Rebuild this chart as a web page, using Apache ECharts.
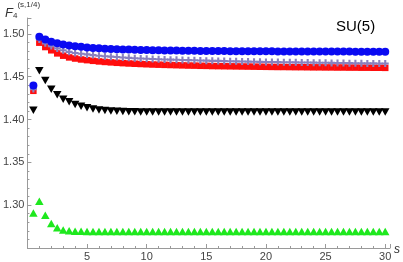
<!DOCTYPE html>
<html><head><meta charset="utf-8">
<script src="https://cdn.jsdelivr.net/npm/echarts@6/dist/echarts.min.js"></script>
<style>html,body{margin:0;padding:0;background:#fff}#c{width:403px;height:262px}</style>
</head><body><div id="c"></div>
<script>
const sValues = [0.5,1,1.5,2,2.5,3,3.5,4,4.5,5,5.5,6,6.5,7,7.5,8,8.5,9,9.5,10,10.5,11,11.5,12,12.5,13,13.5,14,14.5,15,15.5,16,16.5,17,17.5,18,18.5,19,19.5,20,20.5,21,21.5,22,22.5,23,23.5,24,24.5,25,25.5,26,26.5,27,27.5,28,28.5,29,29.5,30];
const blueVals = [1.4397,1.4965,1.4935,1.4908,1.4890,1.4876,1.4865,1.4856,1.4848,1.4841,1.4836,1.4831,1.4827,1.4824,1.4821,1.4818,1.4816,1.4814,1.4812,1.4810,1.4809,1.4808,1.4807,1.4806,1.4805,1.4804,1.4803,1.4802,1.4801,1.4800,1.4800,1.4799,1.4799,1.4798,1.4798,1.4797,1.4797,1.4797,1.4796,1.4796,1.4796,1.4795,1.4795,1.4795,1.4795,1.4794,1.4794,1.4794,1.4794,1.4793,1.4793,1.4793,1.4793,1.4793,1.4792,1.4792,1.4792,1.4792,1.4792,1.4792];
const purpleVals = [1.4355,1.4935,1.4889,1.4857,1.4830,1.4808,1.4790,1.4776,1.4768,1.4760,1.4752,1.4745,1.4739,1.4734,1.4729,1.4724,1.4720,1.4716,1.4713,1.4710,1.4707,1.4704,1.4701,1.4699,1.4697,1.4695,1.4693,1.4691,1.4689,1.4687,1.4685,1.4684,1.4682,1.4680,1.4679,1.4677,1.4676,1.4675,1.4673,1.4672,1.4671,1.4670,1.4669,1.4668,1.4667,1.4666,1.4665,1.4664,1.4663,1.4662,1.4661,1.4660,1.4659,1.4658,1.4657,1.4656,1.4655,1.4655,1.4654,1.4653];
const redVals = [1.4335,1.4897,1.4846,1.4808,1.4772,1.4745,1.4725,1.4712,1.4701,1.4693,1.4685,1.4678,1.4672,1.4667,1.4662,1.4658,1.4654,1.4651,1.4648,1.4645,1.4642,1.4640,1.4638,1.4636,1.4634,1.4632,1.4630,1.4629,1.4627,1.4626,1.4624,1.4623,1.4622,1.4621,1.4620,1.4619,1.4618,1.4617,1.4616,1.4615,1.4614,1.4613,1.4613,1.4612,1.4611,1.4611,1.4610,1.4609,1.4609,1.4608,1.4608,1.4607,1.4607,1.4606,1.4606,1.4605,1.4605,1.4604,1.4604,1.4603];
const blackVals = [1.4107,1.4569,1.4454,1.4352,1.4290,1.4237,1.4206,1.4175,1.4156,1.4138,1.4122,1.4112,1.4104,1.4099,1.4095,1.4093,1.4091,1.4090,1.4089,1.4089,1.4089,1.4089,1.4089,1.4089,1.4089,1.4089,1.4089,1.4089,1.4089,1.4089,1.4089,1.4089,1.4089,1.4089,1.4089,1.4089,1.4089,1.4089,1.4089,1.4089,1.4089,1.4089,1.4089,1.4089,1.4089,1.4089,1.4089,1.4089,1.4089,1.4089,1.4089,1.4089,1.4089,1.4089,1.4089,1.4089,1.4089,1.4089,1.4089,1.4089];
const greenVals = [1.2908,1.3046,1.2882,1.2785,1.2736,1.2710,1.2700,1.2696,1.2695,1.2694,1.2694,1.2694,1.2694,1.2694,1.2694,1.2694,1.2694,1.2694,1.2694,1.2694,1.2694,1.2694,1.2694,1.2694,1.2694,1.2694,1.2694,1.2694,1.2694,1.2694,1.2694,1.2694,1.2694,1.2694,1.2694,1.2694,1.2694,1.2694,1.2694,1.2694,1.2694,1.2694,1.2694,1.2694,1.2694,1.2694,1.2694,1.2694,1.2694,1.2694,1.2694,1.2694,1.2694,1.2694,1.2694,1.2694,1.2694,1.2694,1.2694,1.2694];
const xTicks = [5,10,15,20,25,30];
const yTicks = [1.30,1.35,1.40,1.45,1.50];

const pair = vals => sValues.map((s,i)=>[s, vals[i]]);
const plusPath = 'path://M3.5,0H6.5V3.5H10V6.5H6.5V10H3.5V6.5H0V3.5H3.5Z';
const chart = echarts.init(document.getElementById('c'), null, {renderer:'canvas'});
const axisCol = '#9a9a9a';
chart.setOption({
  animation:false,
  grid:{left:24, right:13, top:18, bottom:11, containLabel:false},
  xAxis:{type:'value', min:0, max:30.4, interval:5, splitNumber:5,
    axisLine:{lineStyle:{color:axisCol,width:1}},
    axisTick:{inside:true,length:4,lineStyle:{color:axisCol}},
    minorTick:{show:true,splitNumber:5,length:2,lineStyle:{color:axisCol}},
    splitLine:{show:false},
    axisLabel:{color:'#444',fontSize:11,fontFamily:'Liberation Sans',margin:3,showMaxLabel:false,showMinLabel:false,
      formatter:v=>xTicks.includes(v)?String(v):''}},
  yAxis:{type:'value', min:1.25, max:1.5185, interval:0.05,
    axisLine:{show:true,lineStyle:{color:axisCol,width:1}},
    axisTick:{show:true,inside:true,length:4,lineStyle:{color:axisCol}},
    minorTick:{show:true,splitNumber:5,length:2,lineStyle:{color:axisCol}},
    splitLine:{show:false},
    axisLabel:{color:'#444',fontSize:11,fontFamily:'Liberation Sans',margin:3,showMinLabel:false,showMaxLabel:false,
      formatter:v=>{const t=yTicks.find(y=>Math.abs(y-v)<1e-6);return t!==undefined?t.toFixed(2):'';}}},
  series:[
    {type:'scatter', data:pair(greenVals), symbol:'triangle', symbolSize:[8.5,7.5], itemStyle:{color:'#1ee81e',opacity:1}},
    {type:'scatter', data:pair(blackVals), symbol:'triangle', symbolRotate:180, symbolSize:[8.5,7.5], itemStyle:{color:'#000',opacity:1}},
    {type:'scatter', data:pair(redVals), symbol:'rect', symbolSize:6.5, itemStyle:{color:'#ff0d0d',opacity:1}},
    {type:'scatter', data:pair(purpleVals), symbol:plusPath, symbolSize:7, itemStyle:{color:'#8a80bf',opacity:1}},
    {type:'scatter', data:pair(blueVals), symbol:'circle', symbolSize:8, itemStyle:{color:'#0a0af2',opacity:1}}
  ],
  graphic:[
    {type:'text', left:5, top:1, style:{text:'{f|F}{sub|4}{sup|(s,1/4)}', rich:{
      f:{fontFamily:'Liberation Sans',fontStyle:'italic',fontSize:13,fill:'#333',padding:[8,0,0,0]},
      sub:{fontFamily:'Liberation Sans',fontSize:8,fill:'#333',padding:[13,0,0,0]},
      sup:{fontFamily:'Liberation Sans',fontSize:8,fill:'#333',padding:[0,0,8,0]}}}},
    {type:'text', left:336, top:19, style:{text:'SU(5)', fontFamily:'Liberation Sans', fontSize:15, fill:'#000'}},
    {type:'text', left:394, top:244, style:{text:'s', fontFamily:'Liberation Sans', fontStyle:'italic', fontSize:12, fill:'#333'}}
  ]
});
</script></body></html>
